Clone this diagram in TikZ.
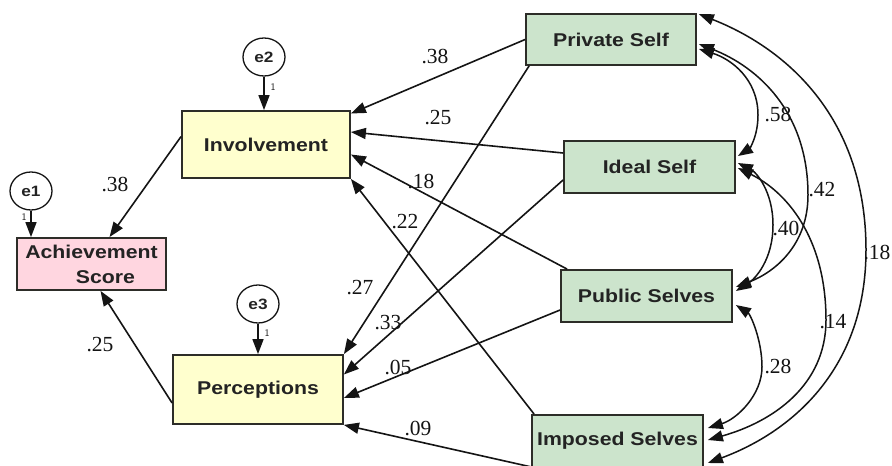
\documentclass[tikz,border=0pt]{standalone}
\usepackage{fontspec}
\setmainfont{Liberation Serif}
\newfontfamily\boxfont[FakeStretch=1.15]{Liberation Sans}
\usetikzlibrary{arrows.meta,shapes.geometric,calc}

\definecolor{ink}{RGB}{20,20,20}
\definecolor{frame}{RGB}{45,45,40}
\definecolor{txt}{RGB}{35,35,35}
\definecolor{yelfill}{RGB}{255,255,206}
\definecolor{grnfill}{RGB}{204,228,204}
\definecolor{pinkfill}{RGB}{255,214,224}

\begin{document}
\begin{tikzpicture}[x=1pt,y=-1pt,
  obs/.style={draw=frame, line width=1.8pt, inner sep=0pt, align=center,
    text=txt, font=\boxfont\bfseries\fontsize{18.5}{25}\selectfont},
  err/.style={ellipse, draw=ink, line width=1.3pt, inner sep=0pt,
    minimum width=42pt, minimum height=38pt, text=txt,
    font=\boxfont\bfseries\fontsize{15}{17}\selectfont},
  tip/.tip={Triangle[length=15pt,width=11pt]},
  reg/.style={draw=ink, line width=1.6pt, -tip},
  cov/.style={draw=ink, line width=1.5pt, tip-tip},
  coef/.style={text=ink, inner sep=0pt, font=\fontsize{21.5}{21.5}\selectfont},
  one/.style={text=ink, inner sep=0pt, font=\sffamily\fontsize{10}{10}\selectfont}]

\useasboundingbox[fill=white] (0,0) rectangle (892,466);

% observed variables
\node[obs, fill=pinkfill, minimum width=149pt, minimum height=52pt] (ach) at (91.5,264)
  {Achievement\\\hspace*{28pt}Score};
\node[obs, fill=yelfill, minimum width=168pt, minimum height=67pt] (inv) at (266,144.5) {Involvement};
\node[obs, fill=yelfill, minimum width=170pt, minimum height=69pt] (per) at (258,389.5) {Perceptions};
\node[obs, fill=grnfill, minimum width=170pt, minimum height=51pt] (priv) at (611,39.5) {Private Self};
\node[obs, fill=grnfill, minimum width=171pt, minimum height=52pt] (ideal) at (649.5,167) {Ideal Self};
\node[obs, fill=grnfill, minimum width=171pt, minimum height=52pt] (pub) at (646.5,296) {Public Selves};
\node[obs, fill=grnfill, minimum width=171pt, minimum height=52pt] (imp) at (617.5,441) {Imposed Selves};

% residuals
\node[err] (e1) at (31,191) {e1};
\node[err] (e2) at (264,57) {e2};
\node[err] (e3) at (258,304) {e3};

\draw[reg] (e1.south) -- (e1 |- ach.north);
\draw[reg] (e2.south) -- (e2 |- inv.north);
\draw[reg] (e3.south) -- (e3 |- per.north);
\node[one] (w1) at (24,217) {1};
\node[one] (w2) at (273,87) {1};
\node[one] (w3) at (267,333) {1};

% paths to the outcome
\draw[reg] ($(inv.west)+(0,-8)$) -- ($(ach.north)+(18,0)$);
\draw[reg] ($(per.west)+(0,13.5)$) -- ($(ach.south)+(9,0)$);

% paths from the self-guides
\draw[reg] (priv.west) -- ($(inv.east)+(0,-31)$);
\draw[reg] ($(ideal.west)+(0,-14)$) -- ($(inv.east)+(0,-12.5)$);
\draw[reg] ($(pub.north west)+(7,0)$) -- ($(inv.east)+(0,10)$);
\draw[reg] ($(imp.north west)+(3,0)$) -- (inv.south east);
\draw[reg] ($(priv.south west)+(4,0)$) -- (per.north east);
\draw[reg] ($(ideal.west)+(0,13)$) -- ($(per.east)+(0,-15)$);
\draw[reg] ($(pub.west)+(0,14)$) -- ($(per.east)+(0,8.5)$);
\draw[reg] ($(imp.south west)+(0,-1)$) -- (per.south east);

% path coefficients
\node[coef] (k1) at (115,184) {.38};
\node[coef] (k2) at (100,345) {.25};
\node[coef] (k3) at (435,57) {.38};
\node[coef] (k4) at (438,118) {.25};
\node[coef] (k5) at (421,182) {.18};
\node[coef] (k6) at (405,222) {.22};
\node[coef] (k7) at (360,288) {.27};
\node[coef] (k8) at (388,323) {.33};
\node[coef] (k9) at (398,367) {.05};
\node[coef] (k10) at (418,428) {.09};

% covariances among the self-guides
\coordinate (m18) at (866,250);
\coordinate (m42) at (808,195);
\coordinate (m58) at (758,115);
\coordinate (m40) at (773,225);
\coordinate (m14) at (826,320);
\coordinate (m28) at (762,367);

\draw[cov] ($(priv.north east)+(2,1)$) .. controls (790,50) and (866,121) .. (m18)
  .. controls (866,367) and (794,431) .. ($(imp.east)+(4,22)$);
\draw[cov] ($(priv.east)+(2,4.5)$) .. controls (758,67) and (808,112) .. (m42)
  .. controls (808,245) and (775,272) .. ($(pub.east)+(3,-9)$);
\draw[cov] ($(priv.east)+(2,9.5)$) .. controls (731,59) and (758,79) .. (m58)
  .. controls (758,137) and (749,149) .. ($(ideal.east)+(2,-11)$);
\draw[cov] ($(ideal.east)+(2,-4)$) .. controls (756,172) and (773,191) .. (m40)
  .. controls (773,260) and (755,279) .. ($(pub.east)+(3,-5)$);
\draw[cov] ($(ideal.east)+(2,1)$) .. controls (785,191) and (826,236) .. (m14)
  .. controls (826,386) and (772,422) .. ($(imp.east)+(4,-1)$);
\draw[cov] ($(pub.east)+(3,9)$) .. controls (750,314) and (762,339) .. (m28)
  .. controls (762,395) and (737,419) .. ($(imp.east)+(4,-13)$);

\node[coef] (r58) at (778,115) {.58};
\node[coef] (r42) at (822,190) {.42};
\node[coef] (r18) at (877,252) {.18};
\node[coef] (r40) at (786,228) {.40};
\node[coef] (r14) at (833,322) {.14};
\node[coef] (r28) at (778,366) {.28};
\end{tikzpicture}
\end{document}
